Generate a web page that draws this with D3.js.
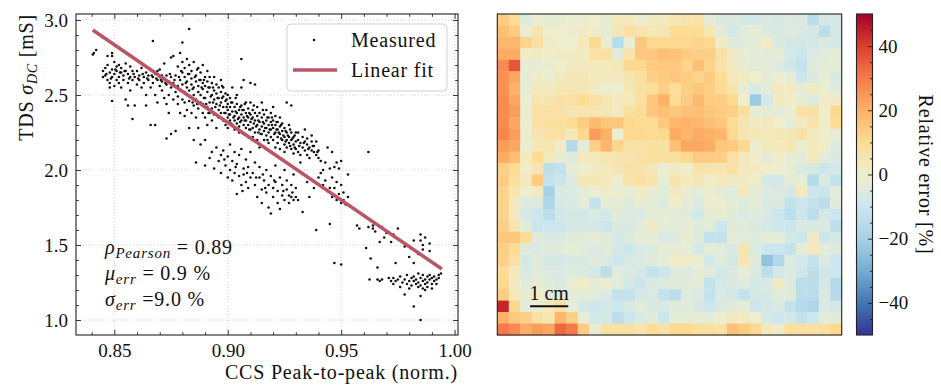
<!DOCTYPE html>
<html>
<head>
  <meta charset="UTF-8">
  <title>TDS vs CCS peak-to-peak and relative error map</title>
  <script src="https://cdn.jsdelivr.net/npm/d3@7"></script>
  <style>
    body { margin: 0; background: #fff; }
    svg text { font-family: "Liberation Serif", "DejaVu Serif", serif; fill: #111; font-size: 20px; }
    .tick text { font-size: 19px; }
    .lbl { letter-spacing: 0.8px; }
    .grid line { stroke: #c8c8c8; stroke-width: 0.8; stroke-dasharray: 1 2; }
  </style>
</head>
<body>
<svg id="chart" width="941" height="387"></svg>
<script>
  // ---- data ----
  const xTicks = [0.85, 0.90, 0.95, 1.00];
  const yTicks = [1.0, 1.5, 2.0, 2.5, 3.0];

  // linear fit end points (x, y)
  const fitX = [0.8405, 0.9944];
  const fitY = [2.933, 1.340];

  const statLines = [
    { sym: "ρ", sub: "Pearson", rest: " = 0.89" },
    { sym: "μ", sub: "err", rest: " = 0.9 %" },
    { sym: "σ", sub: "err", rest: " =9.0 %" }
  ];

  // measured points [CCS peak-to-peak, TDS sigma_DC]
  const measured = [
    [0.8405,2.77],[0.841,2.78],[0.842,2.80],
    [0.845,2.66],[0.845,2.62],[0.846,2.68],[0.846,2.63],[0.847,2.60],[0.847,2.76],[0.847,2.70],[0.848,2.65],[0.848,2.58],[0.848,2.55],
    [0.849,2.67],[0.849,2.62],[0.849,2.46],[0.849,2.78],[0.849,2.76],[0.850,2.72],[0.850,2.64],[0.850,2.56],[0.851,2.69],[0.851,2.60],
    [0.851,2.66],[0.852,2.62],[0.852,2.58],[0.852,2.70],[0.853,2.65],[0.853,2.55],[0.853,2.68],[0.854,2.63],[0.854,2.60],[0.855,2.71],
    [0.855,2.66],[0.855,2.47],[0.856,2.58],[0.856,2.43],[0.856,2.64],[0.857,2.62],[0.857,2.69],[0.857,2.53],[0.858,2.34],[0.858,2.66],
    [0.858,2.60],[0.859,2.43],[0.859,2.62],
    [0.8465,2.64],[0.8485,2.61],[0.8505,2.67],[0.8525,2.65],[0.8545,2.66],[0.8565,2.61],[0.8585,2.64],[0.8605,2.61],[0.8625,2.64],
    [0.8645,2.61],[0.8665,2.63],[0.8685,2.61],[0.8705,2.60],[0.8725,2.58],[0.8745,2.64],[0.8765,2.60],
    [0.860,2.66],[0.860,2.57],[0.861,2.63],[0.861,2.60],[0.862,2.68],[0.862,2.55],[0.863,2.62],[0.863,2.58],[0.864,2.65],[0.864,2.50],
    [0.864,2.43],[0.865,2.60],[0.865,2.63],[0.866,2.67],[0.866,2.30],[0.866,2.55],[0.867,2.62],[0.867,2.86],[0.867,2.58],[0.868,2.64],
    [0.868,2.30],[0.868,2.50],[0.869,2.60],[0.869,2.66],[0.869,2.45],[0.870,2.62],[0.870,2.56],[0.870,2.67],[0.871,2.59],[0.871,2.53],
    [0.871,2.63],[0.872,2.48],[0.872,2.61],[0.872,2.71],[0.873,2.57],[0.873,2.44],[0.873,2.21],[0.873,2.63],[0.874,2.50],[0.874,2.59],
    [0.874,2.38],[0.875,2.24],[0.875,2.75],[0.875,2.55],[0.875,2.62],[0.876,2.76],[0.876,2.47],[0.876,2.58],[0.877,2.26],[0.877,2.52],
    [0.877,2.63],
    [0.878,2.56],[0.878,2.49],[0.878,2.69],[0.878,2.44],[0.879,2.60],[0.879,2.78],[0.879,2.38],[0.879,2.53],[0.880,2.85],[0.880,2.57],
    [0.880,2.47],[0.880,2.65],[0.880,2.72],[0.881,2.52],[0.881,2.62],[0.881,2.45],[0.881,2.36],[0.881,2.68],[0.882,2.55],[0.882,2.74],
    [0.882,2.59],[0.882,2.40],[0.882,2.50],[0.883,2.94],[0.883,2.64],[0.883,2.53],[0.883,2.46],[0.883,2.70],[0.883,2.28],[0.884,2.57],
    [0.884,2.61],[0.884,2.38],[0.884,2.66],[0.885,2.50],[0.885,2.55],[0.885,2.72],[0.885,2.43],[0.885,2.20],[0.886,2.59],[0.886,2.63],
    [0.886,2.47],[0.886,2.35],[0.886,2.05],[0.887,2.52],[0.887,2.68],[0.887,2.56],[0.887,2.41],[0.887,2.28],[0.888,2.60],[0.888,2.45],
    [0.888,2.50],[0.888,2.65],[0.888,2.17],[0.889,2.54],[0.889,2.38],[0.889,2.58],[0.889,2.70],[0.889,2.44],[0.890,2.48],[0.890,2.62],
    [0.890,2.35],[0.890,2.56],[0.890,2.03],[0.890,2.20],[0.891,2.52],[0.891,2.42],[0.891,2.59],[0.891,2.66],[0.891,2.30],
    [0.8785,2.62],[0.8795,2.66],[0.8805,2.52],[0.8815,2.58],[0.8825,2.64],[0.8835,2.49],[0.8845,2.54],[0.8855,2.62],[0.8865,2.44],
    [0.8875,2.60],[0.8885,2.55],[0.8895,2.48],[0.8905,2.44],[0.8915,2.55],[0.8925,2.49],[0.8935,2.45],[0.8945,2.42],[0.8955,2.48],
    [0.8965,2.43],[0.8975,2.48],[0.8985,2.38],[0.8995,2.42],[0.9005,2.37],[0.9015,2.45],[0.9025,2.35],[0.9035,2.39],[0.9045,2.34],
    [0.9055,2.32],[0.9065,2.40],[0.9075,2.33],[0.9085,2.36],[0.9095,2.27],[0.9105,2.34],[0.9115,2.31],[0.9125,2.29],[0.9135,2.33],
    [0.9145,2.24],[0.9155,2.32],[0.9165,2.28],[0.9175,2.35],[0.9185,2.27],[0.9195,2.30],[0.9205,2.24],[0.9215,2.27],[0.9225,2.25],
    [0.9235,2.21],[0.9245,2.23],[0.9255,2.19],[0.9265,2.23],[0.9275,2.16],[0.9285,2.21],[0.9295,2.15],
    [0.8845,2.45],[0.8865,2.67],[0.8895,2.60],[0.8915,2.38],[0.8935,2.55],[0.8955,2.36],[0.8975,2.56],[0.8995,2.47],[0.9015,2.31],
    [0.9035,2.48],[0.9055,2.42],[0.9075,2.44],[0.9095,2.38],[0.9115,2.43],[0.9135,2.25],[0.9155,2.40],[0.9175,2.20],[0.9195,2.35],
    [0.9215,2.32],[0.9235,2.30],[0.9255,2.26],[0.9275,2.27],[0.9295,2.23],[0.9315,2.16],[0.9335,2.18],[0.9355,2.14],[0.9375,2.16],
    [0.9395,2.12],
    [0.892,2.45],[0.892,2.55],[0.892,2.38],[0.892,2.62],[0.893,2.50],[0.893,2.41],[0.893,2.58],[0.893,2.33],[0.894,2.47],[0.894,2.53],
    [0.894,2.62],[0.894,2.37],[0.895,2.44],[0.895,2.51],[0.895,2.57],[0.895,2.28],[0.896,2.40],[0.896,2.48],[0.896,2.55],[0.896,2.35],
    [0.897,2.45],[0.897,2.52],[0.897,2.38],[0.897,2.60],[0.898,2.42],[0.898,2.49],[0.898,2.33],[0.898,2.55],[0.899,2.46],[0.899,2.38],
    [0.899,2.51],[0.899,2.30],[0.900,2.40],[0.900,2.44],[0.900,2.35],[0.900,2.50],[0.900,2.28],[0.901,2.37],[0.901,2.42],[0.901,2.48],
    [0.901,2.33],[0.902,2.39],[0.902,2.45],[0.902,2.30],[0.902,2.55],[0.903,2.36],[0.903,2.42],[0.903,2.33],[0.903,2.27],[0.904,2.38],
    [0.904,2.44],[0.904,2.31],[0.904,2.50],[0.905,2.35],[0.905,2.40],[0.905,2.29],[0.905,2.25],[0.906,2.37],[0.906,2.33],[0.906,2.43],
    [0.906,2.74],[0.906,2.55],[0.907,2.35],[0.907,2.30],[0.907,2.40],[0.907,2.60],[0.907,2.24],[0.908,2.33],[0.908,2.38],[0.908,2.28],
    [0.908,2.45],[0.909,2.35],[0.909,2.30],[0.909,2.22],[0.909,2.41],[0.910,2.32],[0.910,2.37],[0.910,2.27],[0.910,2.45],[0.910,2.58],
    [0.892,2.08],[0.893,2.12],[0.894,2.01],[0.895,2.15],[0.896,2.06],[0.897,1.98],[0.897,2.10],[0.898,2.13],[0.899,2.03],[0.900,1.95],
    [0.900,2.09],[0.901,2.00],[0.901,2.17],[0.902,1.93],[0.902,2.06],[0.903,1.98],[0.903,2.12],[0.904,1.84],[0.904,2.04],[0.905,1.96],
    [0.905,2.10],[0.906,1.90],[0.906,2.14],[0.907,2.01],[0.907,1.97],[0.908,1.92],[0.908,2.07],[0.909,1.88],[0.909,2.02],[0.910,1.95],
    [0.910,2.12],
    [0.8985,2.07],[0.9035,2.02],[0.9085,1.98],[0.9125,1.95],[0.9165,1.88],[0.9205,1.93],[0.9245,1.86],[0.9285,1.85],[0.9065,1.86],
    [0.9155,1.97],
    [0.911,2.35],[0.911,2.28],[0.911,2.40],[0.911,2.22],[0.912,2.33],[0.912,2.38],[0.912,2.25],[0.912,2.57],[0.913,2.30],[0.913,2.36],
    [0.913,2.20],[0.913,2.42],[0.914,2.32],[0.914,2.27],[0.914,2.38],[0.914,2.15],[0.915,2.29],[0.915,2.35],[0.915,2.24],[0.915,2.45],
    [0.916,2.31],[0.916,2.26],[0.916,2.37],[0.916,2.20],[0.917,2.33],[0.917,2.28],[0.917,2.23],[0.917,2.40],[0.918,2.30],[0.918,2.35],
    [0.918,2.25],[0.918,2.18],[0.919,2.32],[0.919,2.27],[0.919,2.38],[0.919,2.22],[0.920,2.28],[0.920,2.33],[0.920,2.20],[0.920,2.42],
    [0.921,2.30],[0.921,2.25],[0.921,2.15],[0.921,2.36],[0.922,2.27],[0.922,2.22],[0.922,2.32],[0.922,2.18],[0.923,2.29],[0.923,2.24],
    [0.923,2.14],[0.923,2.35],[0.924,2.26],[0.924,2.20],[0.924,2.31],[0.925,2.22],[0.925,2.17],[0.925,2.28],[0.925,2.12],[0.926,2.45],
    [0.926,2.20],[0.926,2.25],[0.926,2.15],[0.927,2.22],[0.927,2.18],[0.927,2.30],[0.928,2.43],[0.928,2.20],[0.928,2.14],[0.928,2.25],
    [0.929,2.17],[0.929,2.22],[0.929,2.11],[0.930,2.19],[0.930,2.14],[0.930,2.25],
    [0.911,1.98],[0.912,2.05],[0.912,1.90],[0.913,1.82],[0.914,1.95],[0.914,2.02],[0.915,1.87],[0.915,1.78],[0.916,1.93],[0.917,2.00],
    [0.917,1.85],[0.918,1.90],[0.918,1.75],[0.919,1.96],[0.919,1.71],[0.920,1.88],[0.920,1.82],[0.921,2.03],[0.921,1.92],[0.922,1.86],
    [0.922,1.78],[0.923,1.95],[0.923,1.74],[0.924,1.90],[0.924,1.83],[0.925,2.00],[0.925,1.80],[0.926,1.87],[0.926,1.93],[0.927,1.83],
    [0.927,1.78],[0.928,1.82],[0.928,1.90],[0.929,1.80],[0.929,1.97],[0.930,1.82],[0.930,1.88],[0.931,1.80],
    [0.931,2.20],[0.931,2.12],[0.931,2.25],[0.932,2.18],[0.932,2.10],[0.932,2.05],[0.933,2.22],[0.933,2.15],[0.933,1.72],[0.934,2.19],
    [0.934,2.13],[0.934,2.27],[0.935,2.17],[0.935,2.10],[0.935,2.21],[0.935,1.92],[0.936,2.15],[0.936,2.08],[0.936,1.82],[0.937,2.19],
    [0.937,2.13],[0.937,2.23],[0.938,2.12],[0.938,2.16],[0.938,1.88],[0.939,2.10],[0.939,2.19],[0.939,1.60],[0.940,2.08],[0.940,2.13],
    [0.940,1.95],[0.941,2.06],[0.941,1.98],[0.942,2.00],[0.942,1.90],[0.943,2.05],[0.943,1.93],[0.944,2.15],[0.944,1.86],[0.945,2.01],
    [0.945,1.64],[0.945,1.88],
    [0.946,2.12],[0.946,1.82],[0.946,1.95],[0.947,2.02],[0.947,1.38],[0.947,1.88],[0.948,2.05],[0.948,1.80],[0.948,1.92],[0.949,2.01],
    [0.949,1.84],[0.950,1.78],[0.950,1.90],[0.950,1.37],[0.950,2.06],[0.951,1.85],[0.951,1.80],[0.952,1.77],[0.953,1.97],[0.953,1.82],
    [0.957,1.63],[0.958,1.61],[0.961,1.48],[0.962,2.12],[0.962,1.62],[0.963,1.41],[0.964,1.61],[0.964,1.63],[0.965,1.59],[0.966,1.35],
    [0.967,1.52],[0.968,1.62],[0.969,1.55],[0.970,1.58],[0.972,1.52],[0.973,1.57],[0.974,1.38],[0.975,1.61],[0.978,1.49],[0.980,1.42],
    [0.982,1.53],[0.982,1.38],[0.985,1.57],[0.985,1.53],[0.986,1.50],[0.986,1.47],[0.987,1.55],[0.989,1.51],[0.989,1.46],[0.984,1.44],
    [0.9625,1.27],[0.966,1.27],[0.967,1.26],[0.968,1.27],[0.971,1.28],[0.972,1.26],[0.973,1.24],[0.973,1.28],[0.974,1.26],[0.975,1.27],
    [0.976,1.29],[0.976,1.22],[0.977,1.25],[0.978,1.17],[0.978,1.27],[0.979,1.24],[0.979,1.30],[0.980,1.26],[0.980,1.21],[0.981,1.28],
    [0.981,1.23],[0.982,1.26],[0.982,1.09],[0.982,1.29],[0.983,1.24],[0.983,1.27],[0.984,1.22],[0.984,1.31],[0.984,1.25],[0.985,1.28],
    [0.985,1.00],[0.985,1.16],[0.985,1.23],[0.986,1.30],[0.986,1.26],[0.986,1.21],[0.987,1.27],[0.987,1.24],[0.987,1.20],[0.988,1.29],
    [0.988,1.25],[0.988,1.22],[0.989,1.27],[0.989,1.30],[0.990,1.24],[0.990,1.28],[0.990,1.21],[0.991,1.26],[0.991,1.29],[0.992,1.27],
    [0.992,1.24],[0.993,1.30],[0.993,1.28],[0.994,1.31]
  ];

  // relative error map [%], 28 rows (top to bottom) x 30 columns
  const errorGrid = [
    [14,10,-5,-1,-2,-2,-1,-1,0,-2,3,3,-1,2,3,4,6,6,-3,-6,-6,-7,-8,-6,-7,-6,-6,-14,-8,-7],
    [17,14,-1,5,0,0,-1,2,1,-3,4,7,6,4,4,10,10,10,4,-4,-8,-4,-2,-6,-6,-5,-6,-7,-14,-8],
    [19,19,12,7,1,0,0,3,11,-1,-15,-1,15,11,11,11,11,12,11,1,-4,-4,-3,1,-6,-7,-7,-8,-6,-7],
    [21,21,1,2,1,2,2,2,7,7,-4,6,15,15,17,16,14,13,13,7,2,-2,-3,-4,-2,-8,-10,-6,-4,-3],
    [27,36,-2,-2,-1,0,2,3,3,3,4,11,11,14,15,15,12,17,12,6,2,-2,-4,-3,-5,-9,-12,-4,-3,-3],
    [26,22,-2,1,-1,3,4,4,3,2,3,5,8,13,14,15,14,12,14,10,3,2,0,-3,-1,-2,-10,-6,-2,-6],
    [26,20,-3,3,3,4,5,4,2,-1,-1,4,8,9,13,9,13,15,13,10,6,-2,-6,-3,2,2,-2,2,-1,-5],
    [27,22,-1,5,5,7,7,10,7,5,3,3,8,15,20,10,14,18,14,13,11,0,-22,-8,2,1,-2,-5,1,2],
    [27,24,-1,7,7,7,5,5,5,4,3,8,10,15,17,15,17,17,15,14,13,8,-2,-3,-3,-1,7,7,0,11],
    [27,22,-1,7,8,8,10,14,18,15,15,11,10,10,15,19,20,19,17,15,10,5,2,3,0,-2,2,6,1,10],
    [28,24,-1,5,7,7,4,11,24,20,0,11,11,10,11,21,19,21,20,19,11,5,4,3,4,4,7,2,0,-2],
    [24,22,-1,4,5,1,-16,-3,13,19,12,7,7,8,7,17,22,22,21,15,14,11,-1,3,3,5,-1,3,1,-5],
    [21,17,2,10,3,-2,-5,3,3,5,5,6,7,8,8,8,11,14,14,13,7,3,1,-3,1,-2,-3,3,-4,-6],
    [13,10,1,5,-14,-12,-2,-1,2,3,5,7,6,4,-1,2,0,6,6,5,7,3,2,1,-1,-2,-6,-7,-10,-8],
    [14,8,3,14,-12,-10,-5,4,4,3,0,6,7,6,-2,5,3,4,1,3,2,2,1,-8,-8,-3,-2,-16,-6,-12],
    [12,5,0,2,-20,-6,-6,-3,-1,1,-1,-2,2,-2,-4,3,-1,-3,-1,-3,-5,3,-3,-5,-6,-7,3,-10,-10,-3],
    [12,3,-5,-6,-18,-7,-6,-3,-12,-2,-3,-4,-2,-3,-5,1,-3,-5,-1,-1,-3,-5,-3,-6,-6,-12,-10,-12,-14,-4],
    [12,3,-8,-10,-14,-8,-7,-8,-6,-8,-4,-6,-6,-2,-2,-3,-4,-8,-2,-2,-4,-6,-5,-6,-10,-14,-10,-14,-8,-10],
    [13,5,-4,-10,-10,-10,-7,-7,-8,-10,-6,-6,-4,2,-2,-3,-2,-4,-4,-10,-4,-4,-6,-8,-10,-10,-6,-6,-6,-14],
    [15,15,10,-4,-6,-6,-4,-4,-2,-4,-8,-5,-2,-2,-6,-5,-1,-5,-12,-12,-3,-4,-5,-3,-3,-8,-10,2,-10,-8],
    [13,10,-5,-6,-4,-4,-2,-4,-6,-4,-8,-9,-6,-5,-2,-2,-2,-7,-3,-4,-6,5,-6,-10,-10,-12,-3,3,-3,-5],
    [13,7,-8,-4,-7,-8,-6,-6,-4,-6,-10,-6,-6,-4,-2,1,1,-1,-8,-4,-7,5,-4,-24,-17,-5,-8,-12,-6,-10],
    [10,3,-6,-4,-6,-6,-5,-6,-8,-14,-4,-6,-8,-12,-10,-4,-6,-2,-4,-8,-6,-2,-6,-14,-8,-5,-9,-14,-9,-10],
    [11,2,-4,-2,-4,-6,-1,1,-2,-1,-4,-8,-10,-6,-5,-4,-4,-3,-12,-8,-6,-5,-8,-6,2,-5,-14,-14,-8,-16],
    [14,3,-2,1,-3,-5,-3,-3,-4,-6,-12,-12,-8,-6,-12,-14,-5,-6,-12,-6,-8,-12,-7,-8,-4,-4,-14,-15,-6,-16],
    [44,11,-3,-1,3,7,-2,-8,-10,-8,-10,-6,-4,-6,-6,-4,-4,-7,-10,-6,-4,-2,-10,-8,-6,-12,-16,-18,-6,-8],
    [20,15,13,7,5,19,13,-2,-8,-8,-14,-10,-6,-4,-10,-2,-3,-2,-3,-1,3,2,0,-8,-10,-8,-12,-10,-3,-4],
    [30,27,21,24,22,33,30,14,-2,7,7,7,5,10,7,11,11,8,8,7,17,14,11,3,1,8,8,7,8,11]
  ];

  const cbTicks = [-40, -20, 0, 20, 40];
  const cbStops = [-50, -40, -30, -20, -10, 0, 10, 20, 30, 40, 50];
  const cbColors = ["#313695", "#4575b4", "#74add1", "#a5d2e6", "#cce6ee", "#eeeecd",
                    "#fddc94", "#fdb266", "#f67a49", "#dc3f2e", "#a50026"];
  const cellMm = 3;        // pixel pitch of the map
  const scaleBarCm = 1;

  // ---- left panel ----
  const svg = d3.select("#chart");
  const L = { left: 76, right: 458, top: 14, bottom: 335 };

  const x = d3.scaleLinear().domain([0.8331, 1.0015]).range([L.left, L.right]);
  const y = d3.scaleLinear().domain([0.90, 3.04]).range([L.bottom, L.top]);

  const grid = svg.append("g").attr("class", "grid");
  grid.selectAll("line.gx").data(xTicks).join("line").attr("class", "gx")
    .attr("x1", d => x(d)).attr("x2", d => x(d)).attr("y1", L.top).attr("y2", L.bottom);
  grid.selectAll("line.gy").data(yTicks).join("line").attr("class", "gy")
    .attr("y1", d => y(d)).attr("y2", d => y(d)).attr("x1", L.left).attr("x2", L.right);

  svg.append("g").selectAll("circle").data(measured).join("circle")
    .attr("cx", d => x(d[0])).attr("cy", d => y(d[1])).attr("r", 1.3).attr("fill", "#111");

  const fitLine = d3.line().x(d => x(d[0])).y(d => y(d[1]));
  svg.append("path").datum(d3.zip(fitX, fitY))
    .attr("d", fitLine).attr("fill", "none").attr("stroke", "#BB5566").attr("stroke-width", 3.5);

  // axes, ticks pointing inward on all sides
  const minorX = d3.range(84, 101).map(v => v / 100).filter(v => !xTicks.some(t => Math.abs(t - v) < 1e-6));
  const minorY = d3.range(10, 31).map(v => v / 10).filter(v => !yTicks.some(t => Math.abs(t - v) < 1e-6));

  function cleanAxis(g) {
    g.select(".domain").remove();
    g.attr("font-size", null).attr("font-family", null).attr("color", "#222");
    g.selectAll(".tick line").attr("stroke-width", 0.9);
  }

  svg.append("g").attr("transform", `translate(0,${L.bottom})`)
    .call(d3.axisBottom(x).tickValues(xTicks).tickFormat(d3.format(".2f")).tickSizeInner(-5).tickSizeOuter(0).tickPadding(8.5))
    .call(cleanAxis);
  svg.append("g").attr("transform", `translate(0,${L.bottom})`)
    .call(d3.axisBottom(x).tickValues(minorX).tickFormat("").tickSizeInner(-2.8).tickSizeOuter(0))
    .call(cleanAxis);
  svg.append("g").attr("transform", `translate(0,${L.top})`)
    .call(d3.axisTop(x).tickValues(xTicks).tickFormat("").tickSizeInner(-5).tickSizeOuter(0))
    .call(cleanAxis);
  svg.append("g").attr("transform", `translate(0,${L.top})`)
    .call(d3.axisTop(x).tickValues(minorX).tickFormat("").tickSizeInner(-2.8).tickSizeOuter(0))
    .call(cleanAxis);
  svg.append("g").attr("transform", `translate(${L.left},0)`)
    .call(d3.axisLeft(y).tickValues(yTicks).tickFormat(d3.format(".1f")).tickSizeInner(-5).tickSizeOuter(0).tickPadding(8))
    .call(cleanAxis);
  svg.append("g").attr("transform", `translate(${L.left},0)`)
    .call(d3.axisLeft(y).tickValues(minorY).tickFormat("").tickSizeInner(-2.8).tickSizeOuter(0))
    .call(cleanAxis);
  svg.append("g").attr("transform", `translate(${L.right},0)`)
    .call(d3.axisRight(y).tickValues(yTicks).tickFormat("").tickSizeInner(-5).tickSizeOuter(0))
    .call(cleanAxis);
  svg.append("g").attr("transform", `translate(${L.right},0)`)
    .call(d3.axisRight(y).tickValues(minorY).tickFormat("").tickSizeInner(-2.8).tickSizeOuter(0))
    .call(cleanAxis);

  svg.append("rect")
    .attr("x", L.left).attr("y", L.top).attr("width", L.right - L.left).attr("height", L.bottom - L.top)
    .attr("fill", "none").attr("stroke", "#222").attr("stroke-width", 1.1);

  // legend
  const legend = svg.append("g");
  legend.append("rect").attr("x", 287).attr("y", 24).attr("width", 160).attr("height", 67).attr("rx", 4)
    .attr("fill", "#fff").attr("fill-opacity", 0.85).attr("stroke", "#d0d0d0");
  legend.append("circle").attr("cx", 314).attr("cy", 40).attr("r", 1.3).attr("fill", "#111");
  legend.append("text").attr("class", "lbl").attr("x", 351).attr("y", 40).attr("dy", "0.35em").text("Measured");
  legend.append("line").attr("x1", 293).attr("x2", 337).attr("y1", 70).attr("y2", 70)
    .attr("stroke", "#BB5566").attr("stroke-width", 3.5);
  legend.append("text").attr("class", "lbl").attr("x", 351).attr("y", 70).attr("dy", "0.35em").text("Linear fit");

  // statistics
  const stats = svg.append("g");
  statLines.forEach((s, i) => {
    const t = stats.append("text").attr("class", "lbl").attr("x", 105).attr("y", 254 + i * 26);
    t.append("tspan").attr("font-style", "italic").text(s.sym);
    t.append("tspan").attr("font-style", "italic").attr("font-size", "15px").attr("dy", 4).text(s.sub);
    t.append("tspan").attr("dy", -4).text(s.rest);
  });

  // axis labels
  svg.append("text").attr("class", "lbl").attr("x", L.right).attr("y", 379).attr("text-anchor", "end")
    .text("CCS Peak-to-peak (norm.)");
  const yl = svg.append("text").attr("class", "lbl").attr("text-anchor", "end")
    .attr("transform", `translate(33,${L.top}) rotate(-90)`);
  yl.append("tspan").text("TDS ");
  yl.append("tspan").attr("font-style", "italic").text("σ");
  yl.append("tspan").attr("font-style", "italic").attr("font-size", "14px").attr("dy", 4).text("DC");
  yl.append("tspan").attr("dy", -4).text(" [mS]");

  // ---- right panel: error map ----
  const H = { left: 497.3, right: 841.7, top: 14, bottom: 335 };
  const nRows = errorGrid.length, nCols = errorGrid[0].length;
  const col = d3.scaleBand().domain(d3.range(nCols)).range([H.left, H.right]);
  const row = d3.scaleBand().domain(d3.range(nRows)).range([H.top, H.bottom]);
  const color = d3.scaleLinear().domain(cbStops).range(cbColors).clamp(true);

  const cells = [];
  errorGrid.forEach((r, i) => r.forEach((v, j) => cells.push({ i, j, v })));
  svg.append("g").selectAll("rect").data(cells).join("rect")
    .attr("x", d => col(d.j)).attr("y", d => row(d.i))
    .attr("width", col.bandwidth() + 0.4).attr("height", row.bandwidth() + 0.4)
    .attr("fill", d => color(d.v));
  svg.append("rect").attr("x", H.left).attr("y", H.top)
    .attr("width", H.right - H.left).attr("height", H.bottom - H.top)
    .attr("fill", "none").attr("stroke", "#222").attr("stroke-width", 1.1);

  // scale bar
  const barLen = col.bandwidth() * (scaleBarCm * 10 / cellMm);
  const barX0 = H.left + col.bandwidth() * 2.85;
  const barY = H.top + row.bandwidth() * 25.5;
  svg.append("line").attr("x1", barX0).attr("x2", barX0 + barLen).attr("y1", barY).attr("y2", barY)
    .attr("stroke", "#111").attr("stroke-width", 2);
  svg.append("text").attr("x", barX0 + barLen / 2).attr("y", barY - 6).attr("text-anchor", "middle")
    .attr("font-size", "19px").text(scaleBarCm + " cm");

  // ---- colorbar ----
  const C = { left: 856.5, right: 872.5, top: 14, bottom: 335 };
  const cbY = d3.scaleLinear().domain([cbStops[0], cbStops[cbStops.length - 1]]).range([C.bottom, C.top]);
  const grad = svg.append("defs").append("linearGradient").attr("id", "cbGrad")
    .attr("x1", 0).attr("y1", 1).attr("x2", 0).attr("y2", 0);
  grad.selectAll("stop").data(cbStops).join("stop")
    .attr("offset", d => (d - cbStops[0]) / (cbStops[cbStops.length - 1] - cbStops[0]))
    .attr("stop-color", d => color(d));
  svg.append("rect").attr("x", C.left).attr("y", C.top).attr("width", C.right - C.left).attr("height", C.bottom - C.top)
    .attr("fill", "url(#cbGrad)").attr("stroke", "#222").attr("stroke-width", 1.1);

  const cbMinor = d3.range(-45, 50, 5).filter(v => !cbTicks.includes(v));
  svg.append("g").attr("transform", `translate(${C.right},0)`)
    .call(d3.axisRight(cbY).tickValues(cbTicks).tickSizeInner(-4.5).tickSizeOuter(0).tickPadding(6)
      .tickFormat(d => d < 0 ? "\u2212" + Math.abs(d) : String(d)))
    .call(cleanAxis);
  svg.append("g").attr("transform", `translate(${C.right},0)`)
    .call(d3.axisRight(cbY).tickValues(cbMinor).tickFormat("").tickSizeInner(-2.5).tickSizeOuter(0))
    .call(cleanAxis);

  svg.append("text").attr("class", "lbl").attr("text-anchor", "middle")
    .attr("transform", `translate(919,${(C.top + C.bottom) / 2}) rotate(90)`)
    .text("Relative error [%]");
</script>
</body>
</html>
